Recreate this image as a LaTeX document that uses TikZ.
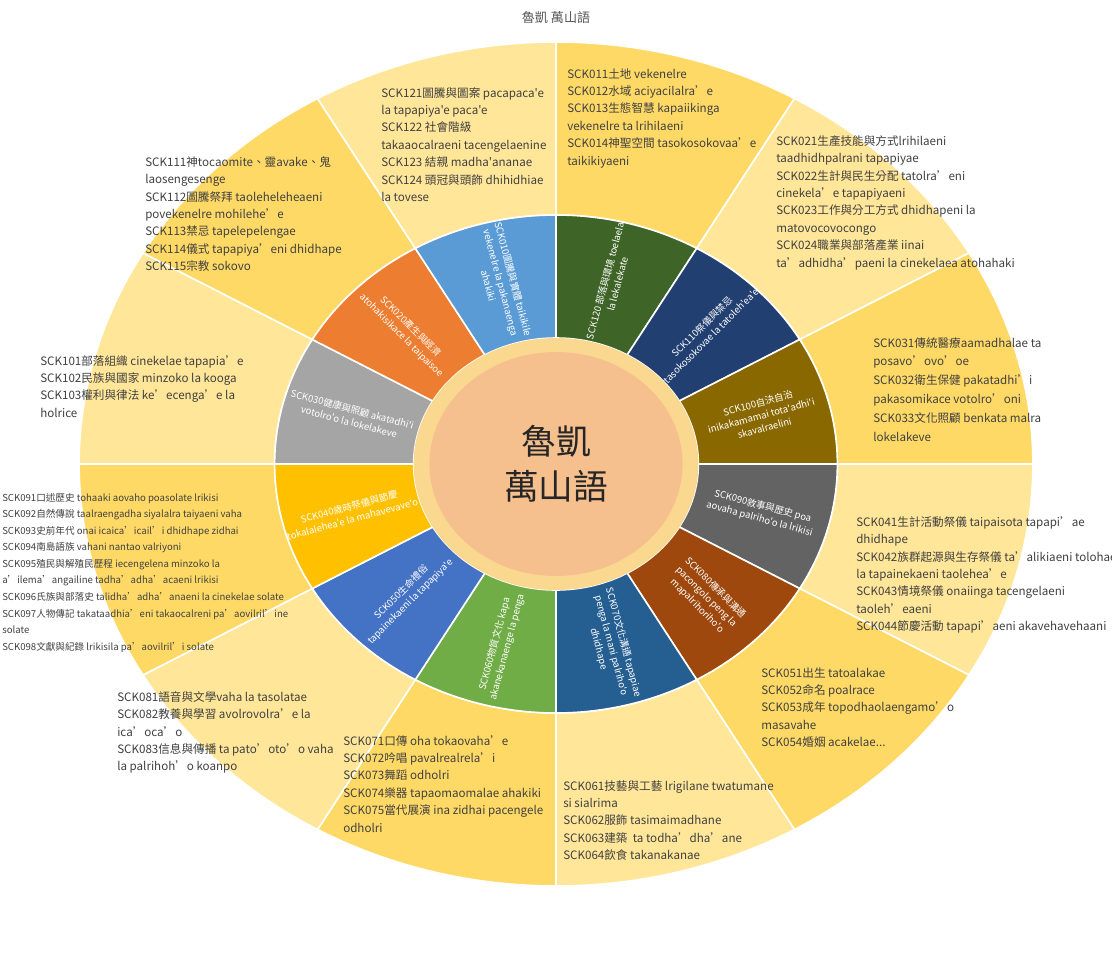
\documentclass[tikz,border=0pt]{standalone}
\usepackage{fontspec}
\setmainfont{Noto Sans CJK TC}[Ligatures=TeXOff]
\definecolor{segA}{HTML}{5B9BD5}
\definecolor{segB}{HTML}{ED7D31}
\definecolor{segC}{HTML}{A5A5A5}
\definecolor{segD}{HTML}{FFC000}
\definecolor{segE}{HTML}{4472C4}
\definecolor{segF}{HTML}{70AD47}
\definecolor{segG}{HTML}{255E91}
\definecolor{segH}{HTML}{9E480E}
\definecolor{segI}{HTML}{636363}
\definecolor{segJ}{HTML}{8A6800}
\definecolor{segK}{HTML}{223F72}
\definecolor{segL}{HTML}{3F6428}
\definecolor{outDark}{HTML}{FFD966}
\definecolor{outLight}{HTML}{FFE699}
\definecolor{hubRing}{HTML}{FAD88F}
\definecolor{hubFill}{HTML}{F6C08E}
\definecolor{txtGray}{HTML}{404040}
\definecolor{titleGray}{HTML}{595959}
\tikzset{
  seg/.style={draw=white, line width=1.2pt},
  outtext/.style={anchor=north west, inner sep=0pt, align=left, text=txtGray,
    font=\fontsize{8.7}{13.1}\selectfont},
  smalltext/.style={outtext, font=\fontsize{7.2}{12.4}\selectfont},
  intext/.style={inner sep=0pt, align=center, text=white,
    font=\fontsize{7.1}{9.6}\selectfont},
}
\begin{document}
\begin{tikzpicture}[x=0.75pt, y=0.75pt]
\useasboundingbox (0,0) rectangle (1112,-953);
\fill[white] (0,0) rectangle (1112,-953);
\node[text=titleGray, font=\fontsize{9.8}{12}\selectfont] (title) at (556,-18) {魯凱 萬山語};

\begin{scope}[shift={(556,-464)}, xscale=1.13]
  % outer ring
  \foreach \a/\c in {90/outDark, 60/outLight, 30/outDark, 0/outLight, -30/outDark, -60/outLight,
                     -90/outDark, -120/outLight, -150/outDark, -180/outLight, -210/outDark, -240/outLight}
    \filldraw[seg, fill=\c] (\a:249) -- (\a:422) arc[start angle=\a, end angle=\a-30, radius=422]
      -- (\a-30:249) arc[start angle=\a-30, end angle=\a, radius=249] -- cycle;
  % inner ring
  \foreach \a/\c in {90/segL, 60/segK, 30/segJ, 0/segI, -30/segH, -60/segG,
                     -90/segF, -120/segE, -150/segD, -180/segC, -210/segB, -240/segA}
    \filldraw[seg, fill=\c] (\a:126) -- (\a:249) arc[start angle=\a, end angle=\a-30, radius=249]
      -- (\a-30:126) arc[start angle=\a-30, end angle=\a, radius=126] -- cycle;
  \fill[hubRing] (0,0) circle (126);
  \fill[hubFill] (0,0) circle (112);
  \node[font=\fontsize{26}{34}\selectfont, align=center, text=black!85] (hub) at (0,0) {魯凱\\萬山語};

  \node[intext, rotate=-75] (l010) at (105:188) {SCK010圖騰與實體 taikikile\\vekenelre la pakanaenga\\ahakiki};
  \node[intext, rotate=-45] (l020) at (135:188) {SCK020產生與經濟\\atohakisikace la taipaisoe};
  \node[intext, rotate=-15] (l030) at (165:188) {SCK030健康與照顧 akatadhi'i\\votolro'o la lokelakeve};
  \node[intext, rotate=15] (l040) at (195:188) {SCK040歲時祭儀與節慶\\tokalalehea'e la mahavevave'o};
  \node[intext, rotate=45] (l050) at (225:188) {SCK050生命禮俗\\tapainekaeni la tapapiya'e};
  \node[intext, rotate=75] (l060) at (255:188) {SCK060物質文化 kapa\\akanekanaenge la penga};
  \node[intext, rotate=-75] (l070) at (285:188) {SCK070文化溝通 tapapiae\\penga la mani palriho'o\\dhidhape};
  \node[intext, rotate=-45] (l080) at (315:188) {SCK080傳承與溝通\\pacongolo peng la\\mapalrihoriho'o};
  \node[intext, rotate=-15] (l090) at (345:188) {SCK090敘事與歷史 poa\\aovaha palriho'o la lrikisi};
  \node[intext, rotate=15] (l100) at (15:188) {SCK100自決自治\\inikakamamai tota'adhi'i\\skavalraelini};
  \node[intext, rotate=45] (l110) at (45:188) {SCK110祭儀與禁忌\\tasokosokovae la tatoleh'ea'e};
  \node[intext, rotate=75] (l120) at (75:188) {SCK120 部落與環境 toelaela\\la lekalekate};
\end{scope}

\node[outtext] (t011) at (567,-68) {SCK011土地 vekenelre\\SCK012水域 aciyacilalra’e\\SCK013生態智慧 kapaiikinga\\vekenelre ta lrihilaeni\\SCK014神聖空間 tasokosokovaa’e\\taikikiyaeni};
\node[outtext] (t021) at (776,-135) {SCK021生產技能與方式lrihilaeni\\taadhidhpalrani tapapiyae\\SCK022生計與民生分配 tatolra’eni\\cinekela’e tapapiyaeni\\SCK023工作與分工方式 dhidhapeni la\\matovocovocongo\\SCK024職業與部落產業 iinai\\ta’adhidha’paeni la cinekelaea atohahaki};
\node[outtext, font=\fontsize{8.7}{14.2}\selectfont] (t031) at (873,-337) {SCK031傳統醫療aamadhalae ta\\posavo’ovo’oe\\SCK032衛生保健 pakatadhi’i\\pakasomikace votolro’oni\\SCK033文化照顧 benkata malra\\lokelakeve};
\node[outtext] (t041) at (856,-516) {SCK041生計活動祭儀 taipaisota tapapi’ae\\dhidhape\\SCK042族群起源與生存祭儀 ta’alikiaeni tolohae\\la tapainekaeni taolehea’e\\SCK043情境祭儀 onaiinga tacengelaeni\\taoleh’eaeni\\SCK044節慶活動 tapapi’aeni akavehavehaani};
\node[outtext] (t051) at (761,-667) {SCK051出生 tatoalakae\\SCK052命名 poalrace\\SCK053成年 topodhaolaengamo’o\\masavahe\\SCK054婚姻 acakelae...};
\node[outtext] (t061) at (563,-780) {SCK061技藝與工藝 lrigilane twatumane\\si sialrima\\SCK062服飾 tasimaimadhane\\SCK063建築 \ ta todha’dha’ane\\SCK064飲食 takanakanae};
\node[outtext] (t071) at (343,-735) {SCK071口傳 oha tokaovaha’e\\SCK072吟唱 pavalrealrela’i\\SCK073舞蹈 odholri\\SCK074樂器 tapaomaomalae ahakiki\\SCK075當代展演 ina zidhai pacengele\\odholri};
\node[outtext] (t081) at (117,-691) {SCK081語音與文學vaha la tasolatae\\SCK082教養與學習 avolrovolra’e la\\ica’oca’o\\SCK083信息與傳播 ta pato’oto’o vaha\\la palrihoh’o koanpo};
\node[smalltext] (t091) at (2,-493) {SCK091口述歷史 tohaaki aovaho poasolate lrikisi\\SCK092自然傳說 taalraengadha siyalalra taiyaeni vaha\\SCK093史前年代 onai icaica’icail’i dhidhape zidhai\\SCK094南島語族 vahani nantao valriyoni\\SCK095殖民與解殖民歷程 iecengelena minzoko la\\a’ilema’angailine tadha’adha’acaeni lrikisi\\SCK096氏族與部落史 talidha’adha’anaeni la cinekelae solate\\SCK097人物傳記 takataadhia’eni takaocalreni pa’aovilril’ine\\solate\\SCK098文獻與紀錄 lrikisila pa’aovilril’i solate};
\node[outtext] (t101) at (40,-355) {SCK101部落組織 cinekelae tapapia’e\\SCK102民族與國家 minzoko la kooga\\SCK103權利與律法 ke’ecenga’e la\\holrice};
\node[outtext] (t111) at (145,-156) {SCK111神tocaomite、靈avake、鬼\\laosengesenge\\SCK112圖騰祭拜 taoleheleheaeni\\povekenelre mohilehe’e\\SCK113禁忌 tapelepelengae\\SCK114儀式 tapapiya’eni dhidhape\\SCK115宗教 sokovo};
\node[outtext] (t121) at (381,-87) {SCK121圖騰與圖案 pacapaca'e\\la tapapiya'e paca'e\\SCK122 社會階級\\takaaocalraeni tacengelaenine\\SCK123 結親 madha'ananae\\SCK124 頭冠與頭飾 dhihidhiae\\la tovese};
\end{tikzpicture}
\end{document}
